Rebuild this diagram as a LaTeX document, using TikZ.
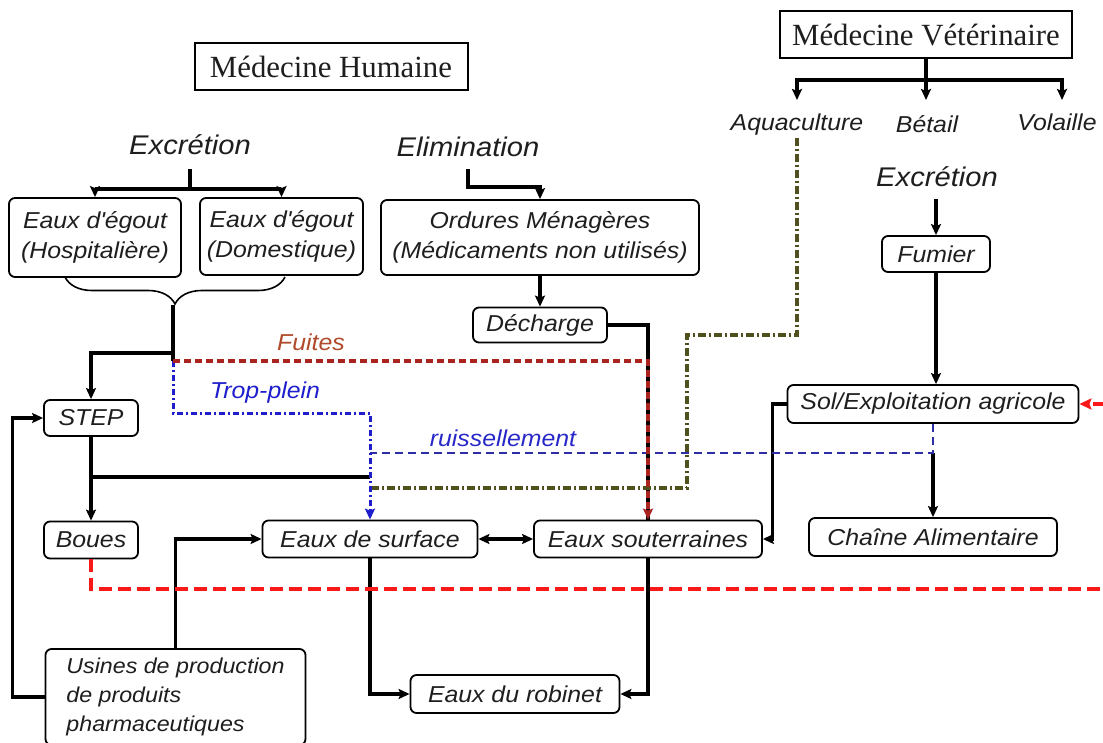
\documentclass[tikz,border=0pt]{standalone}
\usepackage{fontspec}
\setmainfont{Liberation Serif}
\newfontfamily\boxfont{Liberation Sans}[FakeStretch=1.08]
\usetikzlibrary{arrows.meta,decorations.pathreplacing,calc}
\definecolor{fuitecol}{RGB}{170,35,30}
\definecolor{fuitetxt}{RGB}{176,74,42}
\definecolor{tropcol}{RGB}{30,30,205}
\definecolor{ruiscol}{RGB}{45,45,165}
\definecolor{ruistxt}{RGB}{40,40,200}
\definecolor{olivecol}{RGB}{80,80,30}
\definecolor{redcol}{RGB}{250,25,25}
\definecolor{txtcol}{RGB}{30,30,30}
\begin{document}
\begin{tikzpicture}[x=1pt,y=-1pt,
  bx/.style={draw, fill=white, rounded corners=6pt, line width=1.8pt, inner sep=0pt, align=center,
    font=\boxfont\itshape\fontsize{23}{30}\selectfont, text=txtcol},
  titlebox/.style={draw, fill=white, line width=2pt, inner sep=0pt, text=txtcol,
    font=\fontsize{30.8}{36}\selectfont},
  hdr/.style={inner sep=2pt, anchor=base, text=txtcol, font=\boxfont\itshape\fontsize{27}{32}\selectfont},
  lbl/.style={inner sep=2pt, anchor=base, text=txtcol, font=\boxfont\itshape\fontsize{23}{28}\selectfont},
  conn/.style={line width=3.2pt},
  myarrow/.style={conn, -{Stealth[length=11pt,width=10pt,inset=2pt]}},
  fuitesline/.style={color=fuitecol, line width=3.2pt, dash pattern=on 7pt off 4pt,
    -{Stealth[length=11pt,width=10pt,inset=2pt]}},
  tropline/.style={color=tropcol, line width=3pt, dash pattern=on 6pt off 3pt on 2pt off 3pt,
    -{Stealth[length=11pt,width=10pt,inset=2pt]}},
  ruisline/.style={color=ruiscol, line width=2.8pt, dash pattern=on 8pt off 5pt},
  oliveline/.style={color=olivecol, line width=3.2pt, dash pattern=on 8pt off 3pt on 2pt off 3pt},
  redline/.style={color=redcol, line width=3.6pt, dash pattern=on 13pt off 6pt,
    -{Stealth[length=12pt,width=11pt,inset=2pt]}}
]
\useasboundingbox (0,0) rectangle (1103,743);
\clip (0,0) rectangle (1103,743);
\fill[white] (0,0) rectangle (1103,743);

% Titles
\node[titlebox, minimum width=273pt, minimum height=47pt] (mh) at (331,67) {Médecine Humaine};
\node[titlebox, minimum width=292pt, minimum height=47pt] (mv) at (926,35) {Médecine Vétérinaire};

% Headers and labels
\node[hdr] (exL) at (190,155) {Excrétion};
\node[hdr] (elim) at (468,157) {Elimination};
\node[hdr] (exR) at (937,187) {Excrétion};
\node[lbl] (aqua) at (797,131) {Aquaculture};
\node[lbl] (betail) at (927,133) {Bétail};
\node[lbl] (vol) at (1057,131) {Volaille};

% Boxes
\node[bx, minimum width=172pt, minimum height=79pt] (hosp) at (95,237.5) {Eaux d\textquotesingle{}égout\\(Hospitalière)};
\node[bx, minimum width=163pt, minimum height=77pt] (dom) at (281.5,236.5) {Eaux d\textquotesingle{}égout\\(Domestique)};
\node[bx, minimum width=318pt, minimum height=75pt] (ord) at (540,237.5) {Ordures Ménagères\\(Médicaments non utilisés)};
\node[bx, minimum width=134pt, minimum height=35pt] (dech) at (540,325) {Décharge};
\node[bx, minimum width=108pt, minimum height=36pt] (fum) at (936,254) {Fumier};
\node[bx, minimum width=291pt, minimum height=38pt] (sol) at (933,404) {Sol/Exploitation agricole};
\node[bx, minimum width=248pt, minimum height=38pt] (chaine) at (933,537) {Chaîne Alimentaire};
\node[bx, minimum width=94pt, minimum height=36pt] (step) at (91,418) {STEP};
\node[bx, minimum width=94pt, minimum height=37pt] (boues) at (91,540) {Boues};
\node[bx, minimum width=215pt, minimum height=37pt] (surf) at (370,539) {Eaux de surface};
\node[bx, minimum width=228pt, minimum height=37pt] (sout) at (648,539) {Eaux souterraines};
\node[bx, minimum width=209pt, minimum height=38pt] (rob) at (515,694) {Eaux du robinet};
\node[bx, minimum width=260pt, minimum height=96pt, align=left,
  font=\boxfont\itshape\fontsize{21.5}{29}\selectfont] (usines) at (175.5,697)
  {Usines de production\\de produits\\pharmaceutiques};

% Flow labels
\node[lbl, text=fuitetxt] (fu) at (311,350) {Fuites};
\node[lbl, text=tropcol] (tpl) at (265,398) {Trop-plein};
\node[lbl, text=ruistxt] (rl) at (503,446) {ruissellement};

% Coordinates
\coordinate (xl) at (190,189);
\coordinate (el) at (468,187);
\coordinate (vj) at (926,80);
\coordinate (vtip) at (0,100);
\coordinate (vr) at (1062,100);
\coordinate (bt) at (173,305);
\coordinate (j0) at (173,353);
\coordinate (j1) at (173,361);
\coordinate (tp) at (173,413);
\coordinate (j2) at (91,477);
\coordinate (ry) at (933,453);
\coordinate (o1) at (687,335);
\coordinate (o2) at (370,488);
\coordinate (rc) at (1118,589);

% Left tree
\draw[conn, shorten <=12pt] (exL.south) -- (exL.south |- xl);
\draw[myarrow] (xl) -| (hosp.north);
\draw[myarrow] (xl) -| (dom.north);
\draw[line width=1.6pt, decorate, decoration={brace, mirror, amplitude=27pt}] (65,277) -- (285,277);
\draw[conn] (bt) -- (j1);
\draw[myarrow] (j0) -| (step.north);
\draw[myarrow] (step.south) -- (boues.north);
\draw[conn] (j2) -- (j2 -| surf.north);

% Elimination
\draw[myarrow, shorten <=10pt] (elim.south) |- (el -| ord.north) -- (ord.north);
\draw[myarrow] (ord.south) -- (ord.south |- dech.north);
\draw[conn] (dech.east) -| (sout.north);

% Veterinary tree
\draw[conn] (mv.south) -- (vj);
\draw[myarrow] (vj) -| (aqua.north |- vtip);
\draw[myarrow] (vj) -- (vj |- vtip);
\draw[myarrow] (vj) -| (vr);
\draw[myarrow, shorten <=10pt] (fum.north |- exR.south) -- (fum.north);
\draw[myarrow] (fum.south) -- (fum.south |- sol.north);
\draw[myarrow] (sol.west) -- ++(-14,0) |- (sout.east);
\draw[myarrow] (ry) -- (chaine.north);

% Waters
\draw[conn, {Stealth[length=11pt,width=10pt,inset=2pt]}-{Stealth[length=11pt,width=10pt,inset=2pt]}] (surf.east) -- (sout.west);
\draw[myarrow] (surf.south) |- (rob.west);
\draw[myarrow] (sout.south) |- (rob.east);
\draw[myarrow] (usines.north) |- (surf.west);
\draw[myarrow] (usines.west) -- ++(-32,0) |- (step.west);

% Coloured flows
\draw[ruisline] (sol.south) -- (ry) -- (ry -| surf.north);
\draw[oliveline] (aqua.south) |- (o1) |- (o2);
\draw[tropline] (j1) -- (tp) -| (surf.north);
\draw[fuitesline] (j1) -| (sout.north);
\draw[redline] (boues.south) |- (rc) |- (sol.east);
\end{tikzpicture}
\end{document}
